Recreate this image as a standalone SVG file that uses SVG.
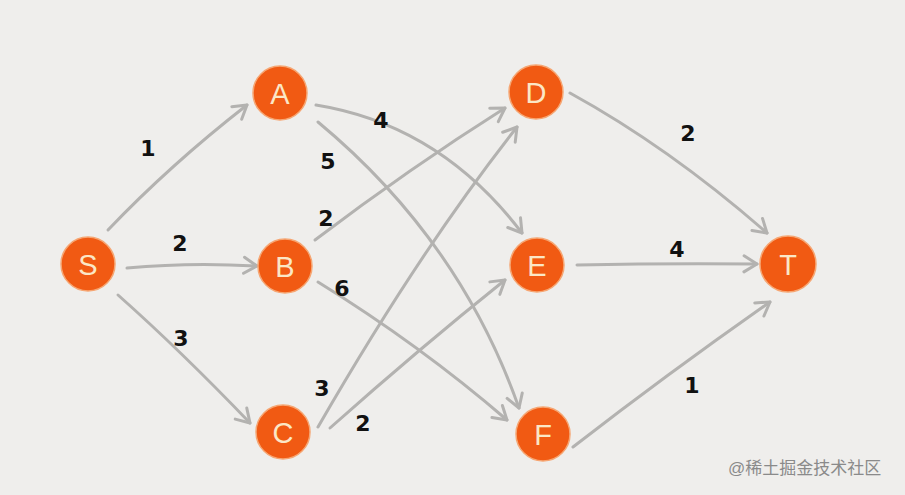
<svg xmlns="http://www.w3.org/2000/svg" width="905" height="495" viewBox="0 0 905 495">
<defs>
<style>
.node{fill:#f15a13;stroke:#f6a673;stroke-width:1.5}
.nl{font-family:"Liberation Sans","DejaVu Sans",sans-serif;font-size:29px;fill:#fbe7c6;text-anchor:middle;dominant-baseline:central}
.edge{fill:none;stroke:#b3b2b0;stroke-width:3;stroke-linecap:round;marker-end:url(#arr)}
.lbl{font-family:"DejaVu Sans","Liberation Sans",sans-serif;font-size:22px;font-weight:bold;fill:#111;text-anchor:middle;dominant-baseline:central}
.wm{font-family:"Liberation Sans","Noto Sans CJK SC",sans-serif;font-size:17px;fill:#8a8a8a}
</style>
<marker id="arr" markerUnits="userSpaceOnUse" markerWidth="30" markerHeight="30" refX="0" refY="0" viewBox="-15 -15 30 30" orient="auto" overflow="visible">
<path d="M-13,-8 L0,0 L-13,8" fill="none" stroke="#b3b2b0" stroke-width="3" stroke-linecap="round" stroke-linejoin="round"/>
</marker>
</defs>
<rect width="905" height="495" fill="#efeeec"/>
<g id="connectors">
<path class="edge" d="M108,230 Q170,165 247,105"/>
<path class="edge" d="M127,268 Q190,262 257,266"/>
<path class="edge" d="M118,295 Q180,350 250,423"/>
<path class="edge" d="M316,105 Q440,125 522,233"/>
<path class="edge" d="M318,122 Q460,240 519,408"/>
<path class="edge" d="M315,240 Q410,168 505,108"/>
<path class="edge" d="M318,282 Q420,345 507,420"/>
<path class="edge" d="M318,427 Q420,250 517,127"/>
<path class="edge" d="M330,428 Q420,348 505,280"/>
<path class="edge" d="M570,93 Q670,148 767,233"/>
<path class="edge" d="M577,265 Q670,263 757,264"/>
<path class="edge" d="M573,447 Q670,372 770,302"/>
<text class="lbl" x="148" y="148">1</text>
<text class="lbl" x="180" y="243">2</text>
<text class="lbl" x="181" y="338">3</text>
<text class="lbl" x="381" y="120">4</text>
<text class="lbl" x="328" y="161">5</text>
<text class="lbl" x="326" y="218">2</text>
<text class="lbl" x="342" y="288">6</text>
<text class="lbl" x="322" y="388">3</text>
<text class="lbl" x="363" y="423">2</text>
<text class="lbl" x="688" y="133">2</text>
<text class="lbl" x="677" y="249">4</text>
<text class="lbl" x="692" y="385">1</text>
</g>
<g id="S"><circle class="node" cx="88" cy="264" r="27"/><text class="nl" x="88" y="265">S</text></g>
<g id="A"><circle class="node" cx="280" cy="93" r="27"/><text class="nl" x="280" y="94">A</text></g>
<g id="B"><circle class="node" cx="285" cy="266" r="27"/><text class="nl" x="285" y="267">B</text></g>
<g id="C"><circle class="node" cx="283" cy="432" r="27"/><text class="nl" x="283" y="433">C</text></g>
<g id="D"><circle class="node" cx="536" cy="92" r="27"/><text class="nl" x="536" y="93">D</text></g>
<g id="E"><circle class="node" cx="537" cy="265" r="27"/><text class="nl" x="537" y="266">E</text></g>
<g id="F"><circle class="node" cx="543" cy="434" r="27"/><text class="nl" x="543" y="435">F</text></g>
<g id="T"><circle class="node" cx="788" cy="264" r="28"/><text class="nl" x="788" y="265">T</text></g>
<text class="wm" x="728" y="474">@稀土掘金技术社区</text>
</svg>
